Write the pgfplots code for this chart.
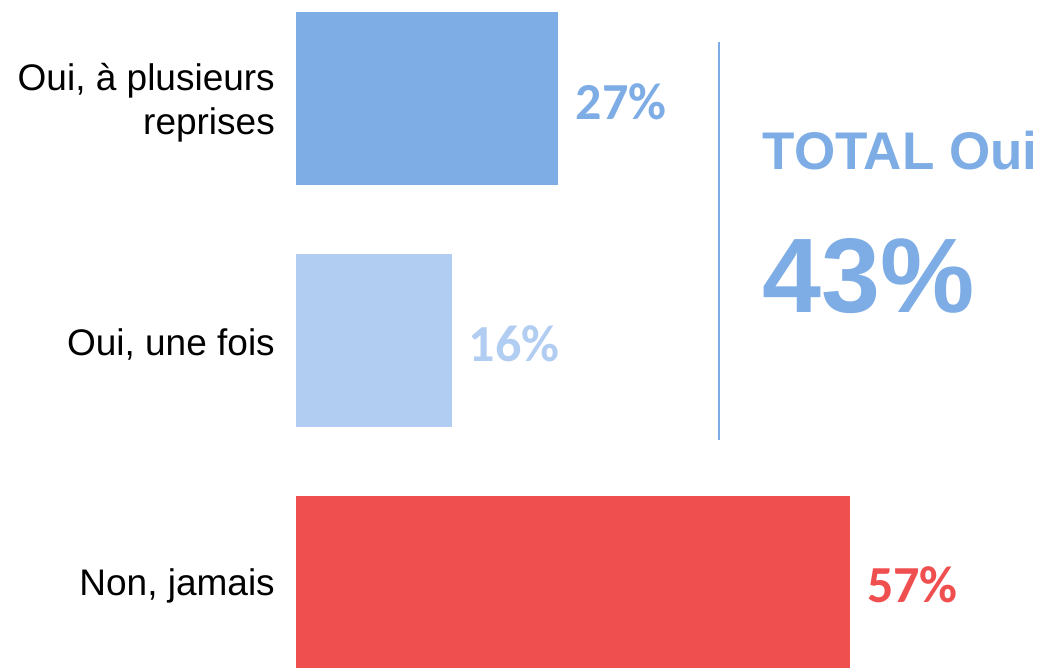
\documentclass[border=0pt]{standalone}
\usepackage{fontspec}
\setmainfont{Liberation Sans}
\newfontfamily\carlito{Carlito}
\usepackage{pgfplots}
\pgfplotsset{compat=1.18}
\definecolor{bleu}{HTML}{7EADE5}
\definecolor{bleuclair}{HTML}{B1CDF1}
\definecolor{rouge}{HTML}{F04F50}

\begin{document}
\begin{tikzpicture}
\begin{axis}[
    scale only axis,
    width=1043pt, height=667pt,
    xmin=-30.45, xmax=76.85,
    ymin=-0.351, ymax=2.407,
    hide axis, clip=false,
    xbar, bar width=173pt, bar shift=0pt,
    /pgf/number format/assume math mode=true,
    nodes near coords={\pgfmathprintnumber{\pgfplotspointmeta}\%},
    nodes near coords align={horizontal},
    every node near coord/.append style={anchor=west, inner sep=0pt, xshift=17pt, yshift=-3pt,
        font=\carlito\bfseries\fontsize{52}{60}\selectfont},
]
\coordinate (bl) at (rel axis cs:0,0);
\coordinate (tr) at (rel axis cs:1,1);

\addplot[fill=bleu, draw=none, every node near coord/.append style={text=bleu}]
    coordinates {(27,2)};
\addplot[fill=bleuclair, draw=none, every node near coord/.append style={text=bleuclair}]
    coordinates {(16,1)};
\addplot[fill=rouge, draw=none, every node near coord/.append style={text=rouge}]
    coordinates {(57,0)};

% libelles
\node[anchor=east, align=right, inner sep=0pt, font=\fontsize{37}{44}\selectfont]
    at (axis cs:-2.16,1.983) {Oui, à plusieurs\\reprises};
\node[anchor=east, inner sep=0pt, font=\fontsize{37}{44}\selectfont]
    at (axis cs:-2.16,0.983) {Oui, une fois};
\node[anchor=east, inner sep=0pt, font=\fontsize{37}{44}\selectfont]
    at (axis cs:-2.16,-0.017) {Non, jamais};

% total
\draw[bleu, line width=2pt] (axis cs:43.5,2.233) -- (axis cs:43.5,0.587);
\node[anchor=west, inner sep=0pt, text=bleu, font=\bfseries\fontsize{53}{60}\selectfont]
    at (axis cs:48.0,1.783) {TOTAL Oui};
\node[anchor=west, inner sep=0pt, text=bleu, font=\bfseries\fontsize{106}{110}\selectfont]
    at (axis cs:48.0,1.266) {43\%};
\end{axis}
\pgfresetboundingbox
\path[use as bounding box] (bl) rectangle (tr);
\end{tikzpicture}
\end{document}
